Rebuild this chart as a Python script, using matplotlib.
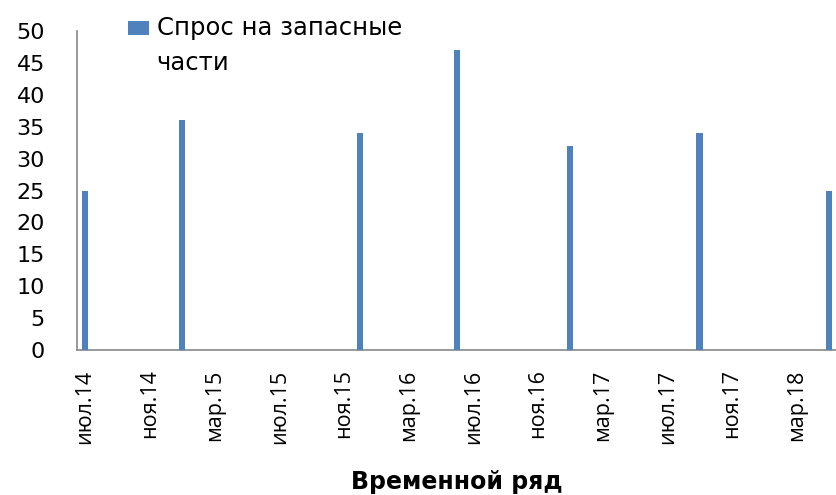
import matplotlib
matplotlib.use("Agg")
import matplotlib.pyplot as plt
from matplotlib.patches import Rectangle

plt.rcParams["font.family"] = ["DejaVu Sans"]

# demand for spare parts, by month of order
order_months = ["2014-07", "2015-01", "2015-12", "2016-06", "2017-01", "2017-09", "2018-05"]
demand = [25, 36, 34, 47, 32, 34, 25]

tick_labels = ["июл.14", "ноя.14", "мар.15", "июл.15", "ноя.15", "мар.16",
               "июл.16", "ноя.16", "мар.17", "июл.17", "ноя.17", "мар.18"]
y_ticks = [0, 5, 10, 15, 20, 25, 30, 35, 40, 45, 50]

START_YEAR, START_MONTH = 2014, 7
N_MONTHS = 47
BAR_COLOR = "#4F81BD"
AXIS_COLOR = "#888888"


def month_index(ym):
    year, month = map(int, ym.split("-"))
    return (year - START_YEAR) * 12 + (month - START_MONTH)


x = [month_index(m) for m in order_months]

fig = plt.figure(figsize=(8.37, 4.95), dpi=100)
ax = fig.add_axes([0.092, 0.293, 0.908, 0.644])

ax.bar(x, demand, width=0.4, color=BAR_COLOR, zorder=3)

ax.set_xlim(-0.5, N_MONTHS - 0.5)
ax.set_ylim(0, 50)

ax.set_yticks(y_ticks)
ax.set_yticklabels([str(v) for v in y_ticks], fontsize=16)
ax.set_xticks(range(0, 4 * len(tick_labels), 4))
ax.set_xticklabels(tick_labels, rotation=90, fontsize=15.5, family="Open Sans")
ax.tick_params(axis="y", length=0, pad=23)
ax.tick_params(axis="x", length=0, pad=14)

for side in ["top", "right"]:
    ax.spines[side].set_visible(False)
for side in ["left", "bottom"]:
    ax.spines[side].set_color(AXIS_COLOR)
    ax.spines[side].set_linewidth(1.2)

ax.set_xlabel("Временной ряд", fontsize=17, fontweight="bold", labelpad=19)

# legend drawn by hand so the swatch sits next to the first line
fig.patches.append(Rectangle((0.153, 0.929), 0.025, 0.029, transform=fig.transFigure,
                             facecolor=BAR_COLOR, edgecolor="none"))
fig.text(0.187, 0.929, "Спрос на запасные", fontsize=17.5, va="baseline", ha="left")
fig.text(0.187, 0.859, "части", fontsize=17.5, va="baseline", ha="left")

fig.savefig("out.png", dpi=100)
